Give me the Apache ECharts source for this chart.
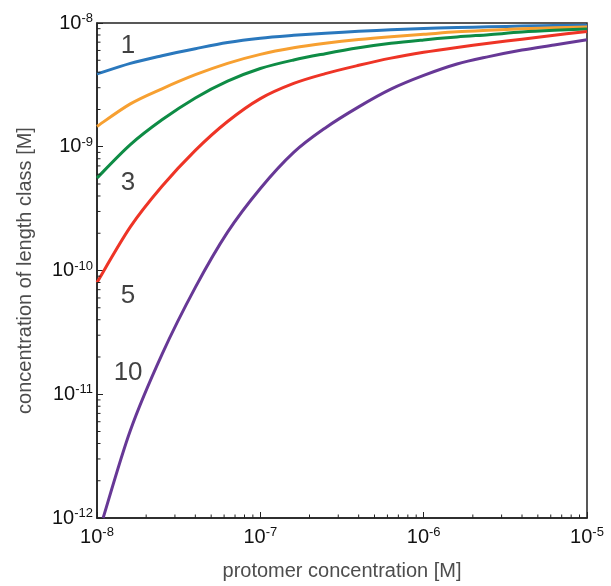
<!DOCTYPE html>
<html>
<head>
<meta charset="utf-8">
<script src="https://cdn.jsdelivr.net/npm/echarts@6/dist/echarts.min.js"></script>
<style>
  html, body { margin: 0; padding: 0; background: #fff; }
  #chart { width: 611px; height: 586px; }
</style>
</head>
<body>
<div id="chart"></div>
<script>
// ---- data ----
var xGrid = [1e-8, 1.6e-8, 2.5e-8, 4e-8, 6.3e-8, 1e-7, 1.6e-7, 2.5e-7, 4e-7, 6.3e-7, 1e-6, 1.6e-6, 2.5e-6, 4e-6, 6.3e-6, 1e-5];
var len1 = [3.87e-9, 4.72e-9, 5.44e-9, 6.2e-9, 6.96e-9, 7.54e-9, 7.95e-9, 8.28e-9, 8.56e-9, 8.82e-9, 9.02e-9, 9.19e-9, 9.31e-9, 9.45e-9, 9.53e-9, 9.6e-9];
var len2 = [1.46e-9, 2.22e-9, 2.94e-9, 3.82e-9, 4.72e-9, 5.58e-9, 6.3e-9, 6.85e-9, 7.35e-9, 7.75e-9, 8.1e-9, 8.48e-9, 8.74e-9, 8.98e-9, 9.16e-9, 9.3e-9];
var len3 = [5.59e-10, 1.04e-9, 1.65e-9, 2.48e-9, 3.39e-9, 4.29e-9, 5.03e-9, 5.65e-9, 6.3e-9, 6.85e-9, 7.3e-9, 7.72e-9, 8.05e-9, 8.44e-9, 8.72e-9, 8.95e-9];
var len5 = [8.0e-11, 2.25e-10, 4.79e-10, 9.35e-10, 1.6e-9, 2.45e-9, 3.25e-9, 3.9e-9, 4.55e-9, 5.2e-9, 5.8e-9, 6.35e-9, 6.85e-9, 7.4e-9, 7.95e-9, 8.55e-9];
var xLen10 = [1.09e-8, 1.6e-8, 2.5e-8, 4e-8, 6.3e-8, 1e-7, 1.6e-7, 2.5e-7, 4e-7, 6.3e-7, 1e-6, 1.6e-6, 2.5e-6, 4e-6, 6.3e-6, 1e-5];
var len10 = [1.0e-12, 5.1e-12, 2.1e-11, 7.3e-11, 2.04e-10, 4.6e-10, 9.0e-10, 1.42e-9, 2.1e-9, 2.92e-9, 3.77e-9, 4.66e-9, 5.35e-9, 6.05e-9, 6.65e-9, 7.33e-9];

var curveNames = ['1', '2', '3', '5', '10'];
var curveColors = ['#2a78bd', '#f7a031', '#0e8c45', '#ee3426', '#673896'];

var labelText = ['1', '3', '5', '10'];
var labelX = [1.55e-8, 1.55e-8, 1.55e-8, 1.55e-8];
var labelY = [6.6e-9, 5.1e-10, 6.3e-11, 1.5e-11];

var xMin = 1e-8, xMax = 1e-5, yMin = 1e-12, yMax = 1e-8;

function zip(xs, ys) { return xs.map(function (x, i) { return [x, ys[i]]; }); }

// minor tick positions (2..9 x each decade)
function minorTicks(lo, hi) {
  var out = [];
  for (var e = Math.round(Math.log10(lo)); e < Math.round(Math.log10(hi)); e++) {
    for (var m = 2; m <= 9; m++) out.push(m * Math.pow(10, e));
  }
  return out;
}
var xMinor = minorTicks(xMin, xMax);
var yMinor = minorTicks(yMin, yMax);

var FONT = "'Liberation Sans', Arial, Helvetica, sans-serif";
var AXIS_COLOR = '#222';

function powLabel(v) {
  var e = Math.round(Math.log10(v));
  return '{b|10}{s|' + e + '}';
}
var richLabel = {
  b: { fontSize: 20, fontFamily: FONT, color: '#111', lineHeight: 22 },
  s: { fontSize: 13, fontFamily: FONT, color: '#111', lineHeight: 13, verticalAlign: 'top' }
};

// Catmull-Rom spline through pixel points -> SVG path
function splinePath(pts) {
  var s = 'M' + pts[0][0] + ' ' + pts[0][1];
  for (var i = 0; i < pts.length - 1; i++) {
    var p0 = pts[Math.max(i - 1, 0)], p1 = pts[i], p2 = pts[i + 1], p3 = pts[Math.min(i + 2, pts.length - 1)];
    var c1x = p1[0] + (p2[0] - p0[0]) / 6, c1y = p1[1] + (p2[1] - p0[1]) / 6;
    var c2x = p2[0] - (p3[0] - p1[0]) / 6, c2y = p2[1] - (p3[1] - p1[1]) / 6;
    s += ' C' + c1x + ' ' + c1y + ' ' + c2x + ' ' + c2y + ' ' + p2[0] + ' ' + p2[1];
  }
  return s;
}

var chart = echarts.init(document.getElementById('chart'), null, { renderer: 'canvas' });

var series = [];
var curveData = [zip(xGrid, len1), zip(xGrid, len2), zip(xGrid, len3), zip(xGrid, len5), zip(xLen10, len10)];
curveData.forEach(function (d, i) {
  series.push({
    type: 'custom', name: curveNames[i], silent: true, z: 3,
    data: [d[0]],
    renderItem: function (params, api) {
      var pts = d.map(function (p) { return api.coord(p); });
      return {
        type: 'path',
        shape: { pathData: splinePath(pts) },
        style: { fill: 'none', stroke: curveColors[i], lineWidth: 3, lineJoin: 'round' }
      };
    }
  });
});

// minor ticks via custom series using the axis scales
series.push({
  type: 'custom', silent: true, clip: false, z: 5,
  data: xMinor.map(function (v) { return [v, yMin]; }),
  renderItem: function (params, api) {
    var p = api.coord([api.value(0), yMin]);
    return { type: 'line', shape: { x1: p[0], y1: p[1], x2: p[0], y2: p[1] - 3.5 }, style: { stroke: AXIS_COLOR, lineWidth: 1 } };
  }
});
series.push({
  type: 'custom', silent: true, clip: false, z: 5,
  data: yMinor.map(function (v) { return [xMin, v]; }),
  renderItem: function (params, api) {
    var p = api.coord([xMin, api.value(1)]);
    return { type: 'line', shape: { x1: p[0], y1: p[1], x2: p[0] + 3.5, y2: p[1] }, style: { stroke: AXIS_COLOR, lineWidth: 1 } };
  }
});

// curve labels
series.push({
  type: 'scatter', silent: true, z: 6,
  data: labelText.map(function (t, i) { return { name: t, value: [labelX[i], labelY[i]] }; }),
  symbol: 'circle', symbolSize: 1, itemStyle: { color: 'rgba(0,0,0,0)' },
  label: { show: true, position: 'inside', formatter: '{b}', fontSize: 26, fontFamily: FONT, color: '#111' }
});

chart.setOption({
  animation: false,
  backgroundColor: '#fff',
  grid: { left: 97, right: 24, top: 23, bottom: 68, show: true, borderColor: AXIS_COLOR, borderWidth: 1.5, backgroundColor: 'transparent' },
  xAxis: {
    type: 'log', logBase: 10, min: xMin, max: xMax,
    name: 'protomer concentration [M]', nameLocation: 'middle', nameGap: 43,
    nameTextStyle: { fontSize: 20, fontFamily: FONT, color: '#4d4d4d' },
    axisLine: { show: true, lineStyle: { color: AXIS_COLOR, width: 1.5 } },
    axisTick: { show: true, inside: true, length: 6, lineStyle: { color: AXIS_COLOR, width: 1 } },
    minorTick: { show: false },
    splitLine: { show: false },
    axisLabel: { margin: 8, formatter: powLabel, rich: richLabel }
  },
  yAxis: {
    type: 'log', logBase: 10, min: yMin, max: yMax,
    name: 'concentration of length class [M]', nameLocation: 'middle', nameGap: 62,
    nameTextStyle: { fontSize: 20, fontFamily: FONT, color: '#4d4d4d' },
    axisLine: { show: true, lineStyle: { color: AXIS_COLOR, width: 1.5 } },
    axisTick: { show: true, inside: true, length: 6, lineStyle: { color: AXIS_COLOR, width: 1 } },
    minorTick: { show: false },
    splitLine: { show: false },
    axisLabel: { margin: 4, formatter: powLabel, rich: richLabel }
  },
  series: series
});
</script>
</body>
</html>
